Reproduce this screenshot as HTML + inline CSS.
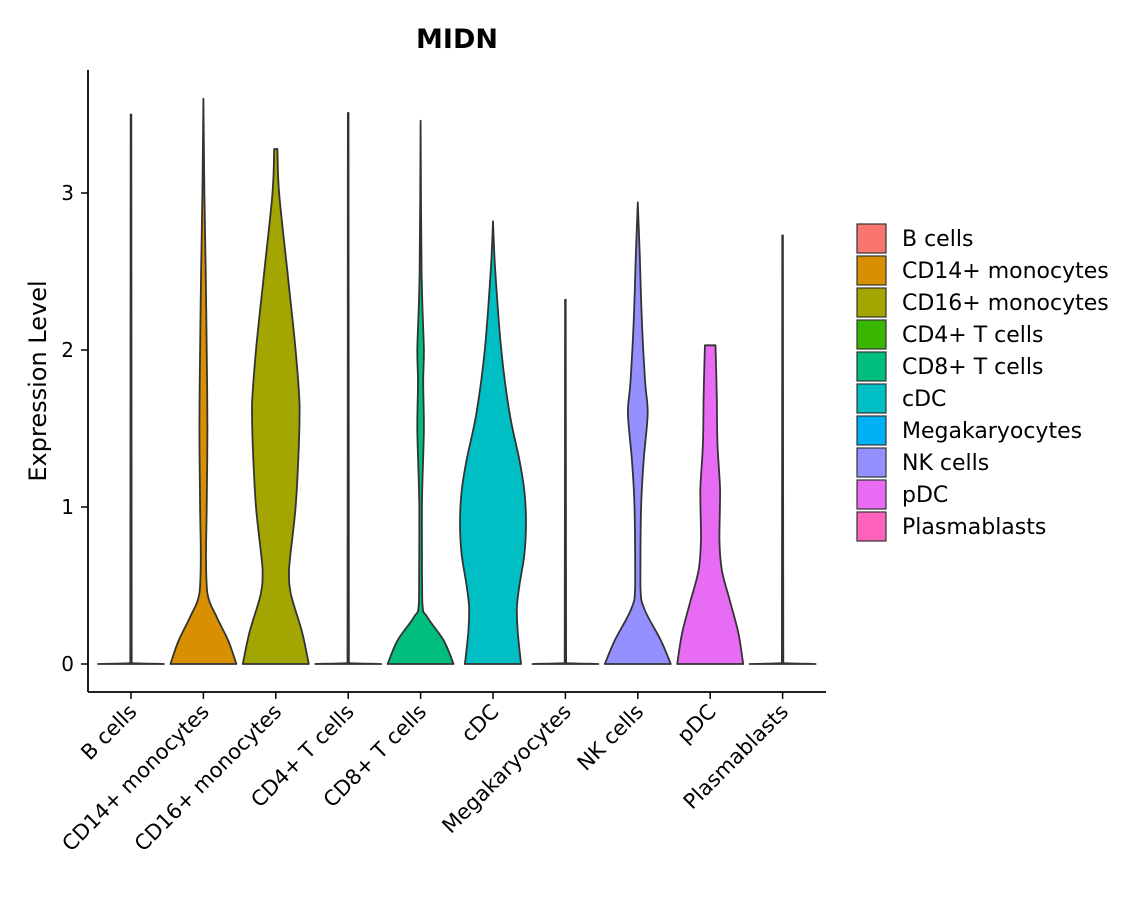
<!DOCTYPE html>
<html><head><meta charset="utf-8"><style>
body{margin:0;background:#fff;font-family:"Liberation Sans","DejaVu Sans",sans-serif}
svg{display:block}
text{font-family:"DejaVu Sans","Liberation Sans",sans-serif}
</style></head><body>
<svg id="chart" width="1140" height="900">
<text x="457" y="48" text-anchor="middle" font-size="27" font-weight="bold">MIDN</text>
<text transform="translate(46,381) rotate(-90)" text-anchor="middle" font-size="24">Expression Level</text>
<g id="plot"></g>
<g id="legend"></g>
</svg>
<script>
const categories=["B cells","CD14+ monocytes","CD16+ monocytes","CD4+ T cells","CD8+ T cells","cDC","Megakaryocytes","NK cells","pDC","Plasmablasts"];
const colors=["#F8766D","#D89000","#A3A500","#39B600","#00BF7D","#00BFC4","#00B0F6","#9590FF","#E76BF3","#FF62BC"];
const yTicks=[0,1,2,3];
const profY=[
 [0,0.005,0.01],
 [0,0.15,0.3,0.45,0.7,1.0,1.5,2.0,2.5,3.0],
 [0,0.2,0.45,0.6,1.0,1.4,1.65,2.0,2.5,3.0],
 [0,0.005,0.01],
 [0,0.15,0.3,0.4,1.0,1.5,1.8,2.0,2.5],
 [0,0.2,0.35,0.5,0.7,0.9,1.1,1.3,1.6,2.0,2.5],
 [0,0.005,0.01],
 [0,0.15,0.35,0.5,1.0,1.3,1.6,1.8,2.2,2.6],
 [0,0.2,0.4,0.6,0.8,1.1,1.4,1.7],
 [0,0.005,0.01]];
const profW=[
 [1,0.03,0.02],
 [1,0.75,0.4,0.12,0.08,0.1,0.12,0.1,0.07,0.03],
 [1,0.8,0.45,0.4,0.6,0.7,0.72,0.6,0.35,0.1],
 [1,0.03,0.02],
 [1,0.7,0.2,0.05,0.04,0.1,0.08,0.1,0.03],
 [0.85,0.75,0.72,0.8,0.95,1.0,0.95,0.8,0.5,0.25,0.07],
 [1,0.03,0.02],
 [1,0.7,0.2,0.08,0.1,0.18,0.3,0.22,0.12,0.06],
 [1,0.85,0.6,0.35,0.28,0.3,0.22,0.2],
 [1,0.03,0.02]];
const maxVals=[3.5,3.6,3.28,3.51,3.46,2.82,2.32,2.94,2.03,2.73];
const topW=[0.01,0,0.05,0.01,0,0,0.01,0,0.16,0.01];
const NS="http://www.w3.org/2000/svg";
const yS=v=>664-157*v;
const xS=i=>131+i*72.4;
const HW=33;
const plot=document.getElementById('plot');
function mk(t,a,p){const e=document.createElementNS(NS,t);for(const k in a)e.setAttribute(k,a[k]);(p||plot).appendChild(e);return e;}
function cl(v,a,b){const lo=Math.min(a,b),hi=Math.max(a,b);return Math.max(lo,Math.min(hi,v));}
function smooth(pts){
 let s="";
 for(let i=0;i<pts.length-1;i++){
  const p0=pts[Math.max(0,i-1)],p1=pts[i],p2=pts[i+1],p3=pts[Math.min(pts.length-1,i+2)];
  const c1=[cl(p1[0]+(p2[0]-p0[0])/6,p1[0],p2[0]),cl(p1[1]+(p2[1]-p0[1])/6,p1[1],p2[1])];
  const c2=[cl(p2[0]-(p3[0]-p1[0])/6,p1[0],p2[0]),cl(p2[1]-(p3[1]-p1[1])/6,p1[1],p2[1])];
  s+=`C${c1[0].toFixed(1)},${c1[1].toFixed(1)} ${c2[0].toFixed(1)},${c2[1].toFixed(1)} ${p2[0].toFixed(1)},${p2[1].toFixed(1)}`;
 }
 return s;
}
categories.forEach((c,i)=>{
 const ys=profY[i].concat([maxVals[i]]), ws=profW[i].concat([topW[i]]);
 const cx=xS(i);
 let r=[],l=[];
 ys.forEach((y,j)=>{r.push([cx+ws[j]*HW,yS(y)]);l.push([cx-ws[j]*HW,yS(y)]);});
 l.reverse();
 const d=`M${cx-ws[0]*HW},${yS(0)}L${r[0][0]},${r[0][1]}`+smooth(r)+`L${l[0][0]},${l[0][1]}`+smooth(l)+"Z";
 const p=mk('path',{d:d,fill:colors[i],stroke:'#333',"stroke-width":1.8,"stroke-linejoin":"round"});
 
 
 const t=mk('line',{x1:cx,x2:cx,y1:692,y2:699,stroke:'#000',"stroke-width":1.5});
 
 
 const lb=mk('text',{transform:`translate(${cx+7},${713}) rotate(-45)`,"text-anchor":"end","font-size":21,fill:'#000'});
 lb.textContent=c;
 
 
});
yTicks.forEach(v=>{
 const t=mk('line',{x1:81,x2:88,y1:yS(v),y2:yS(v),stroke:'#000',"stroke-width":1.5});
 
 
 const lb=mk('text',{x:74,y:yS(v)+7,"text-anchor":"end","font-size":20});
 lb.textContent=v;
 
 
});
const ax=mk('line',{x1:88,x2:88,y1:70,y2:692,stroke:'#000',"stroke-width":1.8});


const ax2=mk('line',{x1:88,x2:826,y1:692,y2:692,stroke:'#000',"stroke-width":1.8});


const lg=document.getElementById('legend');
categories.forEach((c,i)=>{
 const y=223+i*32;
 const r=mk('rect',{x:857,y:y+1,width:29,height:29,fill:colors[i],stroke:'#333',"stroke-width":1.2},lg);
 
 
 const t=mk('text',{x:902,y:y+23,"font-size":22},lg);
 t.textContent=c;
 
 
});
</script>
</body></html>
